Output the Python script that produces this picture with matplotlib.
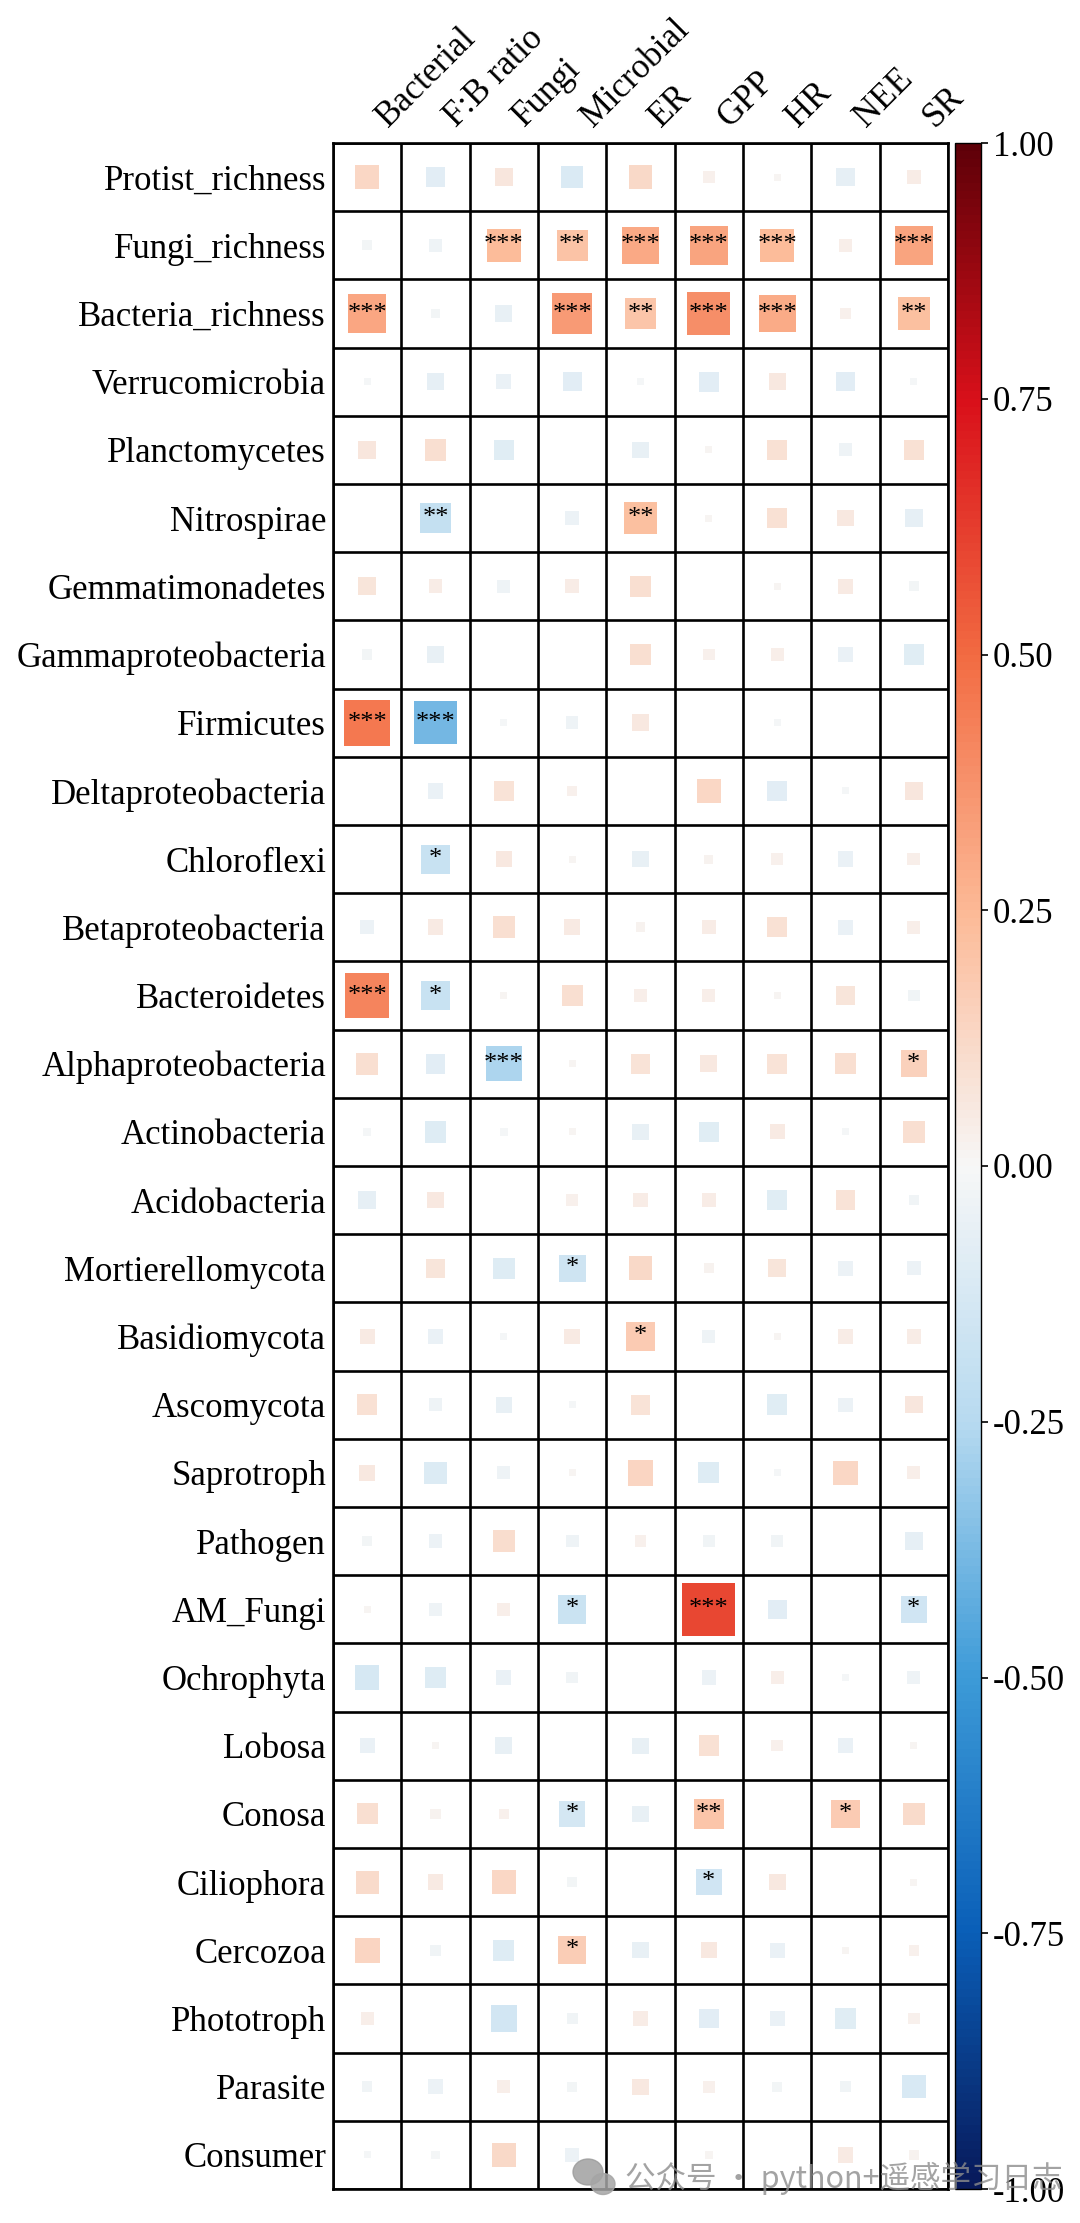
import numpy as np
import matplotlib
matplotlib.use("Agg")
import matplotlib.pyplot as plt
from matplotlib.colors import LinearSegmentedColormap, Normalize
from matplotlib.cm import ScalarMappable
from matplotlib.transforms import ScaledTranslation
from matplotlib.patches import Ellipse

plt.rcParams['font.family'] = ['Liberation Serif', 'DejaVu Serif']
plt.rcParams['axes.unicode_minus'] = False

# column / row names
cols = ["Bacterial", "F:B ratio", "Fungi", "Microbial", "ER", "GPP", "HR", "NEE", "SR"]
rows = ["Protist_richness", "Fungi_richness", "Bacteria_richness", "Verrucomicrobia",
        "Planctomycetes", "Nitrospirae", "Gemmatimonadetes", "Gammaproteobacteria",
        "Firmicutes", "Deltaproteobacteria", "Chloroflexi", "Betaproteobacteria",
        "Bacteroidetes", "Alphaproteobacteria", "Actinobacteria", "Acidobacteria",
        "Mortierellomycota", "Basidiomycota", "Ascomycota", "Saprotroph", "Pathogen",
        "AM_Fungi", "Ochrophyta", "Lobosa", "Conosa", "Ciliophora", "Cercozoa",
        "Phototroph", "Parasite", "Consumer"]

# correlation coefficients, one list per row
corr = [
    [0.13, -0.08, 0.07, -0.11, 0.12, 0.03, 0.01, -0.07, 0.045],
    [-0.02, -0.035, 0.24, 0.21, 0.30, 0.32, 0.24, 0.035, 0.32],
    [0.31, -0.02, -0.06, 0.35, 0.20, 0.39, 0.29, 0.03, 0.22],
    [-0.01, -0.066, -0.048, -0.08, -0.01, -0.083, 0.06, -0.08, -0.01],
    [0.07, 0.10, -0.09, 0.0, -0.056, 0.01, 0.09, -0.037, 0.086],
    [0.0, -0.20, 0.0, -0.04, 0.22, 0.01, 0.086, 0.06, -0.07],
    [0.072, 0.04, -0.037, 0.043, 0.094, 0.0, 0.01, 0.048, -0.02],
    [-0.022, -0.056, 0.0, 0.0, 0.10, 0.028, 0.035, -0.053, -0.086],
    [0.46, -0.39, -0.01, -0.033, 0.06, 0.0, -0.01, 0.0, 0.0],
    [0.0, -0.053, 0.083, 0.024, 0.0, 0.13, -0.083, -0.01, 0.07],
    [0.0, -0.18, 0.058, 0.01, -0.056, 0.017, 0.028, -0.05, 0.035],
    [-0.04, 0.053, 0.10, 0.053, 0.02, 0.04, 0.086, -0.048, 0.037],
    [0.42, -0.18, 0.01, 0.094, 0.035, 0.037, 0.01, 0.072, -0.03],
    [0.10, -0.083, -0.27, 0.01, 0.083, 0.06, 0.083, 0.098, 0.15],
    [-0.015, -0.098, -0.015, 0.01, -0.056, -0.09, 0.048, -0.01, 0.10],
    [-0.066, 0.06, 0.0, 0.03, 0.043, 0.045, -0.09, 0.08, -0.024],
    [0.0, 0.076, -0.098, -0.16, 0.12, 0.022, 0.072, -0.045, -0.04],
    [0.048, -0.05, -0.01, 0.053, 0.175, -0.035, 0.01, 0.043, 0.043],
    [0.09, -0.037, -0.056, -0.01, 0.083, 0.0, -0.09, -0.043, 0.066],
    [0.056, -0.105, -0.037, 0.01, 0.136, -0.094, -0.01, 0.13, 0.037],
    [-0.022, -0.04, 0.105, -0.035, 0.03, -0.028, -0.03, 0.0, -0.07],
    [0.01, -0.037, 0.037, -0.175, 0.0, 0.60, -0.08, 0.0, -0.15],
    [-0.127, -0.098, -0.048, -0.03, 0.0, -0.043, 0.035, -0.01, -0.037],
    [-0.048, 0.01, -0.06, 0.0, -0.056, 0.09, 0.028, -0.048, 0.01],
    [0.094, 0.022, 0.024, -0.14, -0.056, 0.20, 0.0, 0.175, 0.11],
    [0.114, 0.053, 0.127, -0.02, 0.0, -0.15, 0.06, 0.0, 0.01],
    [0.136, -0.024, -0.094, 0.165, -0.056, 0.056, -0.048, 0.01, 0.024],
    [0.037, 0.0, -0.145, -0.026, 0.045, -0.083, -0.05, -0.086, 0.03],
    [-0.024, -0.045, 0.037, -0.02, 0.056, 0.03, -0.022, -0.024, -0.118],
    [-0.01, -0.015, 0.12, -0.043, 0.0, 0.015, 0.0, 0.05, 0.02],
]

# significance marks (row, column, stars)
signif = [
    ("Fungi_richness", "Fungi", "***"), ("Fungi_richness", "Microbial", "**"),
    ("Fungi_richness", "ER", "***"), ("Fungi_richness", "GPP", "***"),
    ("Fungi_richness", "HR", "***"), ("Fungi_richness", "SR", "***"),
    ("Bacteria_richness", "Bacterial", "***"), ("Bacteria_richness", "Microbial", "***"),
    ("Bacteria_richness", "ER", "**"), ("Bacteria_richness", "GPP", "***"),
    ("Bacteria_richness", "HR", "***"), ("Bacteria_richness", "SR", "**"),
    ("Nitrospirae", "F:B ratio", "**"), ("Nitrospirae", "ER", "**"),
    ("Firmicutes", "Bacterial", "***"), ("Firmicutes", "F:B ratio", "***"),
    ("Chloroflexi", "F:B ratio", "*"),
    ("Bacteroidetes", "Bacterial", "***"), ("Bacteroidetes", "F:B ratio", "*"),
    ("Alphaproteobacteria", "Fungi", "***"), ("Alphaproteobacteria", "SR", "*"),
    ("Mortierellomycota", "Microbial", "*"),
    ("Basidiomycota", "ER", "*"),
    ("AM_Fungi", "Microbial", "*"), ("AM_Fungi", "GPP", "***"), ("AM_Fungi", "SR", "*"),
    ("Conosa", "Microbial", "*"), ("Conosa", "GPP", "**"), ("Conosa", "NEE", "*"),
    ("Ciliophora", "GPP", "*"),
    ("Cercozoa", "Microbial", "*"),
]

cb_ticks = [-1.0, -0.75, -0.5, -0.25, 0.0, 0.25, 0.5, 0.75, 1.0]

# blue - white - red map like the original
cmap = LinearSegmentedColormap.from_list("corr", [
    (0.000, "#08195a"), (0.125, "#0a5fb8"), (0.250, "#3d9bd8"), (0.375, "#b7daf0"),
    (0.500, "#f7f7f7"), (0.625, "#fcb996"), (0.750, "#f26b42"), (0.875, "#d9101a"),
    (1.000, "#5e0008")])
norm = Normalize(vmin=-1, vmax=1)

W, H = 1080, 2223
fig = plt.figure(figsize=(W / 100, H / 100), dpi=100)
ax = fig.add_axes([333 / W, 1 - 2189 / H, 615 / W, 2046 / H])
cax = fig.add_axes([955 / W, 1 - 2189 / H, 26 / W, 2046 / H])

nr, nc = len(rows), len(cols)
r = np.array(corr)
yy, xx = np.mgrid[0:nr, 0:nc]

# square area proportional to |r|
cell_pt = 615 / 100 * 72 / nc
sizes = cell_pt ** 2 * np.abs(r)
ax.scatter(xx.ravel() + 0.5, yy.ravel() + 0.5, s=sizes.ravel(), c=r.ravel(),
           cmap=cmap, norm=norm, marker="s", linewidths=0, zorder=2)

for row, col, st in signif:
    ax.text(cols.index(col) + 0.5, rows.index(row) + 0.5, st, ha="center", va="center",
            fontsize=19, color="black", zorder=4)

for k in range(nc + 1):
    ax.axvline(k, color="black", lw=1.9, zorder=3)
for k in range(nr + 1):
    ax.axhline(k, color="black", lw=1.9, zorder=3)

ax.set_xlim(0, nc)
ax.set_ylim(nr, 0)
for sp in ax.spines.values():
    sp.set_linewidth(1.9)

ax.set_yticks(np.arange(nr) + 0.5)
ax.set_yticklabels(rows, fontsize=25)
ax.xaxis.tick_top()
ax.set_xticks(np.arange(nc) + 0.5)
ax.set_xticklabels(cols, fontsize=25, rotation=45, ha="left", va="bottom",
                   rotation_mode="anchor")
ax.tick_params(axis="both", length=0)
ax.tick_params(axis="y", pad=5)
ax.tick_params(axis="x", pad=7)
for lab in ax.get_xticklabels():
    lab.set_transform(lab.get_transform() + ScaledTranslation(0.26, 0, fig.dpi_scale_trans))

cb = fig.colorbar(ScalarMappable(norm=norm, cmap=cmap), cax=cax, ticks=cb_ticks,
                  format="%.2f")
cb.outline.set_linewidth(1.0)
cax.tick_params(labelsize=25, length=5, width=1.2)

# watermark
fig.text(625 / W, 1 - 2178 / H, "公众号 · python+遥感学习日志", fontsize=22,
         family=["Noto Sans CJK SC", "DejaVu Sans"], color="#8c8c8c", alpha=0.8,
         va="center", ha="left", zorder=10)
fig.patches.append(Ellipse((588 / W, 1 - 2172 / H), 30 / W, 26 / H,
                           transform=fig.transFigure, color="#9a9a9a", alpha=0.8))
fig.patches.append(Ellipse((603 / W, 1 - 2184 / H), 24 / W, 21 / H,
                           transform=fig.transFigure, color="#a5a5a5", alpha=0.85))

fig.savefig("out.png", dpi=100)
